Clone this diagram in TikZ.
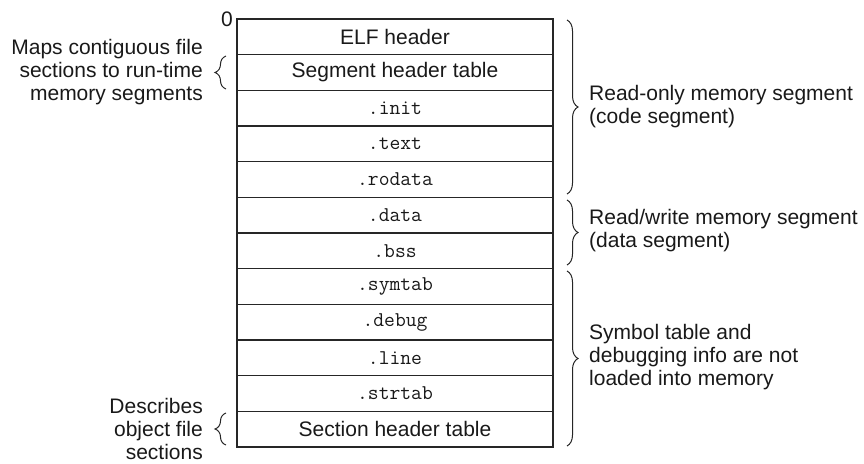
\documentclass[tikz,border=0pt]{standalone}
\usepackage{fontspec}
\setmainfont{Liberation Sans}
\usetikzlibrary{decorations.pathreplacing}
\begin{document}
\begin{tikzpicture}[x=1pt,y=-1pt,
  row/.style={draw=black!85,line width=1.1pt,minimum width=316pt,minimum height=35.67pt,inner sep=0pt,font=\fontsize{21}{23}\selectfont,text=black!90},
  lbl/.style={inner sep=0pt,font=\fontsize{21}{23}\selectfont,text=black!90},
  brc/.style={decorate,decoration={brace,amplitude=11pt},line width=1pt,draw=black!85}]
\useasboundingbox (0,0) rectangle (864,463);
\node[row] (r1)  at (395,36.83)  {ELF header};
\node[row] (r2)  at (395,72.50)  {Segment header table};
\node[row] (r3)  at (395,108.17) {\ttfamily .init};
\node[row] (r4)  at (395,143.83) {\ttfamily .text};
\node[row] (r5)  at (395,179.50) {\ttfamily .rodata};
\node[row] (r6)  at (395,215.17) {\ttfamily .data};
\node[row] (r7)  at (395,250.83) {\ttfamily .bss};
\node[row] (r8)  at (395,286.50) {\ttfamily .symtab};
\node[row] (r9)  at (395,322.17) {\ttfamily .debug};
\node[row] (r10) at (395,357.83) {\ttfamily .line};
\node[row] (r11) at (395,393.50) {\ttfamily .strtab};
\node[row] (r12) at (395,429.17) {Section header table};
\node[lbl,anchor=east] (zero) at (233,19) {0};
% right braces
\coordinate (b1s) at (567,20);
\coordinate (b1e) at (567,194);
\coordinate (b2s) at (567,200);
\coordinate (b2e) at (567,265);
\coordinate (b3s) at (567,271);
\coordinate (b3e) at (567,446);
\draw[brc] (b1s) -- (b1e);
\draw[brc] (b2s) -- (b2e);
\draw[brc] (b3s) -- (b3e);
\node[lbl,anchor=west,align=left] (t1) at (589,107) {Read-only memory segment\\(code segment)};
\node[lbl,anchor=west,align=left] (t2) at (589,231) {Read/write memory segment\\(data segment)};
\node[lbl,anchor=west,align=left] (t3) at (589,357) {Symbol table and\\debugging info are not\\loaded into memory};
% left braces
\coordinate (l1s) at (226,89);
\coordinate (l1e) at (226,56);
\coordinate (l2s) at (226,445);
\coordinate (l2e) at (226,413);
\draw[brc] (l1s) -- (l1e);
\draw[brc] (l2s) -- (l2e);
\node[lbl,anchor=east,align=right] (m1) at (203,72) {Maps contiguous file\\sections to run-time\\memory segments};
\node[lbl,anchor=east,align=right] (m2) at (203,429) {Describes\\object file\\sections};
\end{tikzpicture}
\end{document}
